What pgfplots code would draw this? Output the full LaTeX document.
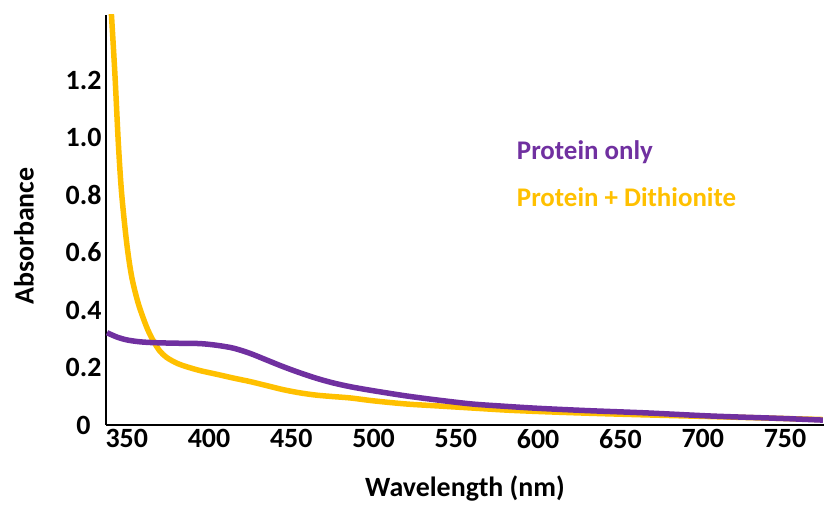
\documentclass[border=0pt]{standalone}
\usepackage{pgfplots}
\pgfplotsset{compat=1.18}
\usepackage{fontspec}
\setmainfont{Carlito}
\definecolor{prot}{HTML}{7030A0}
\definecolor{dith}{HTML}{FFC000}
\begin{document}
\begin{tikzpicture}
\begin{axis}[
  scale only axis,
  width=718bp, height=410bp,
  xmin=337.4, xmax=773.7,
  ymin=0, ymax=1.426,
  axis x line=bottom, axis y line=left,
  axis line style={-, line width=2bp, black},
  major tick length=0pt,
  xtick={350,400,...,750},
  ytick={0,0.2,0.4,0.6,0.8,1.0,1.2},
  yticklabels={0\hspace*{11bp},0.2,0.4,0.6,0.8,1.0,1.2},
  /pgf/number format/assume math mode=true,
  /pgf/number format/1000 sep={},
  tick label style={font=\fontsize{28}{32}\selectfont\bfseries},
  xticklabel style={yshift=-1bp},
  yticklabel style={xshift=-1bp},
  label style={font=\fontsize{28}{32}\selectfont\bfseries},
  xlabel={Wavelength (nm)},
  ylabel={Absorbance},
  xlabel style={at={(axis description cs:0.5,-0.1537)}, anchor=center},
  ylabel style={at={(axis description cs:-0.1142,0.461)}, anchor=center},
  clip=true,
]
\addplot[dith, line width=5.5bp, smooth] coordinates {
(339.8,1.50) (340.9,1.409) (342.9,1.211) (344.9,0.98) (346.9,0.806) (350,0.632)
(353,0.516) (357,0.423) (362,0.342) (366,0.294) (370,0.258) (374,0.236)
(379,0.219) (384,0.207)
(394,0.19) (405,0.176) (415,0.163) (425,0.151) (435,0.137) (445,0.123)
(455,0.112) (465,0.104) (475,0.099) (486,0.094) (500,0.084) (520,0.073)
(540,0.066) (560,0.059) (580,0.052) (600,0.047) (630,0.041) (660,0.036)
(700,0.030) (740,0.024) (773,0.019)
};
\addplot[prot, line width=5.5bp, smooth] coordinates {
(338,0.321) (344,0.306) (350,0.296) (357,0.29) (364,0.287) (375,0.285)
(385,0.284) (395,0.283) (405,0.277) (415,0.267) (425,0.249) (435,0.226)
(445,0.203) (455,0.182) (465,0.163) (475,0.147) (486,0.133) (500,0.119)
(520,0.101) (540,0.086) (560,0.073) (580,0.065) (600,0.058) (630,0.050)
(666,0.042) (706,0.031) (747,0.023) (773,0.017)
};
\node[anchor=west, inner sep=0pt, text=prot, font=\fontsize{27}{32}\selectfont\bfseries] at (axis cs:587,0.95) {Protein only};
\node[anchor=west, inner sep=0pt, text=dith, font=\fontsize{27}{32}\selectfont\bfseries] at (axis cs:587,0.793) {Protein + Dithionite};
\end{axis}
\path ([xshift=-106bp,yshift=-77bp]current axis.south west) rectangle ++(825bp,502bp);
\end{tikzpicture}
\end{document}
